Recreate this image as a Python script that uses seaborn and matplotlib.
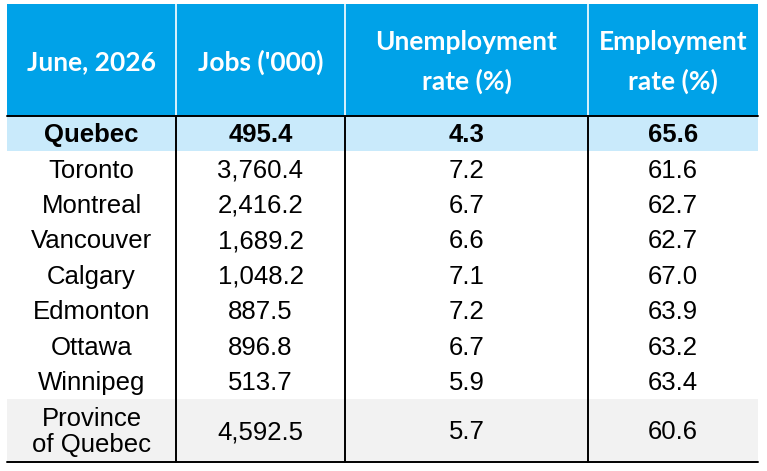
"""
June 2026 labour market table, drawn with matplotlib/seaborn.
"""

import matplotlib
matplotlib.use("Agg")
import matplotlib.pyplot as plt
import seaborn as sns

# ── Data ───────────────────────────────────────────────────────────────────────
header = ["June, 2026", "Jobs ('000)", "Unemployment\nrate (%)", "Employment\nrate (%)"]
regions = ["Quebec", "Toronto", "Montreal", "Vancouver", "Calgary",
           "Edmonton", "Ottawa", "Winnipeg", "Province\nof Quebec"]
jobs = [495.4, 3760.4, 2416.2, 1689.2, 1048.2, 887.5, 896.8, 513.7, 4592.5]
unemployment = [4.3, 7.2, 6.7, 6.6, 7.1, 7.2, 6.7, 5.9, 5.7]
employment = [65.6, 61.6, 62.7, 62.7, 67.0, 63.9, 63.2, 63.4, 60.6]

# ── Layout (pixels) ────────────────────────────────────────────────────────────
W, H = 767, 471
COL_EDGES = [7, 176, 345, 588, 758]
HEAD_TOP, HEAD_BOT = 4, 116
ROW_H = 35.4
LAST_ROW_H = 63

BLUE = "#00A2E8"
LIGHT_BLUE = "#C9EAFB"
GREY = "#F2F2F2"

sns.set_theme(style="white")
plt.rcParams["font.family"] = ["Liberation Sans", "DejaVu Sans"]

fig = plt.figure(figsize=(W / 100, H / 100), dpi=100)
ax = fig.add_axes([0, 0, 1, 1])
ax.set_xlim(0, W)
ax.set_ylim(H, 0)
ax.axis("off")

# row boundaries
tops = [HEAD_BOT + i * ROW_H for i in range(len(regions))]
heights = [ROW_H] * (len(regions) - 1) + [LAST_ROW_H]
bottom = tops[-1] + heights[-1]

# header background
ax.barh(HEAD_TOP, COL_EDGES[-1] - COL_EDGES[0], height=HEAD_BOT - HEAD_TOP,
        left=COL_EDGES[0], align="edge", color=BLUE, linewidth=0)

# row backgrounds: first (Quebec) and last (province) shaded
row_colors = [LIGHT_BLUE] + ["white"] * (len(regions) - 2) + [GREY]
ax.barh(tops, [COL_EDGES[-1] - COL_EDGES[0]] * len(regions), height=heights,
        left=COL_EDGES[0], align="edge", color=row_colors, linewidth=0)

# header text
centers = [(a + b) / 2 for a, b in zip(COL_EDGES[:-1], COL_EDGES[1:])]
for cx, label in zip(centers, header):
    ax.text(cx, (HEAD_TOP + HEAD_BOT) / 2 + 2, label, ha="center", va="center",
            color="white", fontsize=19, fontweight="bold",
            family=["Lato", "DejaVu Sans"], linespacing=1.65)

# body text
for i, region in enumerate(regions):
    cy = tops[i] + heights[i] / 2 + 1.5
    weight = "bold" if i == 0 else "normal"
    values = [region, f"{jobs[i]:,.1f}", f"{unemployment[i]:.1f}", f"{employment[i]:.1f}"]
    for cx, val in zip(centers, values):
        ax.text(cx, cy, val, ha="center", va="center", color="black",
                fontsize=18.5, fontweight=weight, linespacing=1.1)

# grid lines
for x in COL_EDGES[1:-1]:
    ax.plot([x, x], [HEAD_TOP, HEAD_BOT], color="white", lw=1.2)
    ax.plot([x, x], [HEAD_BOT, bottom], color="black", lw=1.4)
ax.plot([COL_EDGES[0], COL_EDGES[-1]], [HEAD_BOT, HEAD_BOT], color="black", lw=1.4)
ax.plot([COL_EDGES[0], COL_EDGES[-1]], [bottom, bottom], color="black", lw=1.4)

fig.savefig("out.png", dpi=100)
